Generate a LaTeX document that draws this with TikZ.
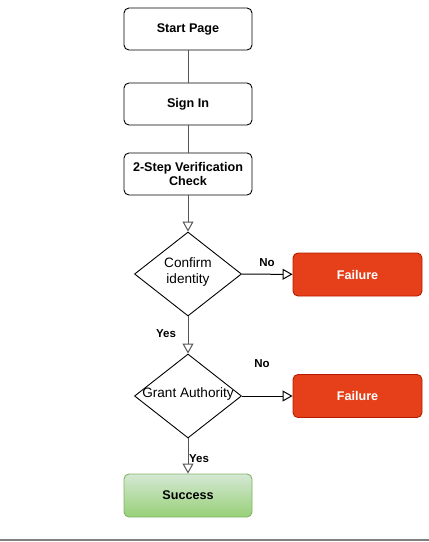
\documentclass[tikz,border=0pt]{standalone}
\usepackage{fontspec}
\setmainfont{Liberation Sans}
\usetikzlibrary{arrows.meta,shapes.geometric}
\definecolor{failred}{HTML}{E5401A}
\definecolor{failedge}{HTML}{B81C00}
\definecolor{sucedge}{HTML}{82B366}
\definecolor{suctop}{HTML}{D5E8D4}
\definecolor{sucbot}{HTML}{97D077}
\definecolor{linegray}{HTML}{555555}
\begin{document}
\begin{tikzpicture}[x=1pt,y=-1pt,
  box/.style={draw=black,line width=0.9pt,rounded corners=5pt,minimum width=128pt,minimum height=42pt,inner sep=0pt,align=center,font=\fontsize{12.6}{14.5}\selectfont\bfseries},
  dia/.style={draw=black,line width=0.9pt,diamond,minimum width=107pt,minimum height=84pt,inner sep=0pt},
  diatext/.style={align=center,inner sep=0pt,font=\fontsize{13.6}{15.5}\selectfont},
  fail/.style={box,fill=failred,draw=failedge,text=white,minimum width=129pt,minimum height=43pt},
  succ/.style={box,draw=sucedge,top color=suctop,bottom color=sucbot,minimum height=43pt},
  conn/.style={draw=linegray,line width=1pt},
  arr/.style={conn,-{Triangle[open,length=10pt,width=11pt,fill=white]}},
  lbl/.style={font=\fontsize{11.5}{13}\selectfont\bfseries,inner sep=0pt}]
\useasboundingbox (0,0) rectangle (429,542);
\node[box] (start) at (188,29) {Start Page};
\node[box] (sign) at (188,104) {Sign In};
\node[box] (two) at (188,174) {2-Step Verification\\Check};
\node[dia] (conf) at (188,274) {};
\node[diatext] (conft) at (188,272) {Confirm\\identity};
\node[fail] (f1) at (357.5,274.5) {Failure};
\node[dia] (grant) at (188,396) {};
\node[diatext] (grantt) at (188,394) {Grant Authority};
\node[fail] (f2) at (357.5,396) {Failure};
\node[succ] (succ) at (188,495.5) {Success};
\draw[conn] (start) -- (sign);
\draw[conn] (sign) -- (two);
\draw[arr] (two) -- (conf);
\draw[arr,draw=black] (conf) -- (f1);
\draw[arr] (conf) -- (grant);
\draw[arr,draw=black] (grant) -- (f2);
\draw[arr] (grant) -- (succ);
\node[lbl] (no1) at (267,263) {No};
\node[lbl] (yes1) at (166,334) {Yes};
\node[lbl] (no2) at (262,364) {No};
\node[lbl] (yes2) at (199,459) {Yes};
\draw[draw=gray,line width=1.5pt] (0,540) -- (429,540);
\end{tikzpicture}
\end{document}
